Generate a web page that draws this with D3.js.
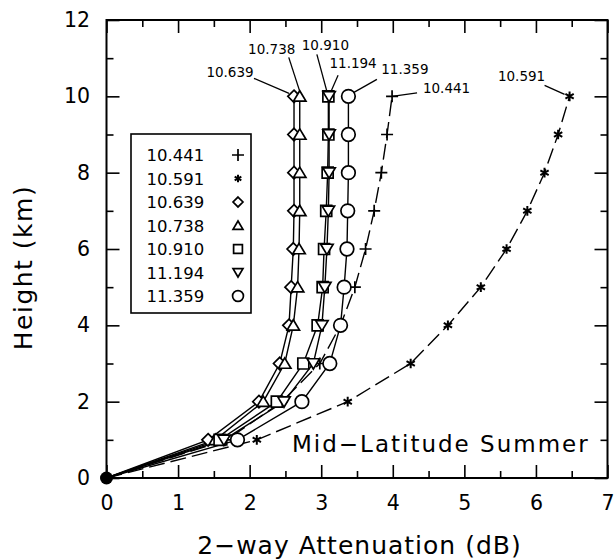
<!DOCTYPE html>
<html><head><meta charset="utf-8">
<script src="https://cdn.jsdelivr.net/npm/d3@7"></script>
<style>body{margin:0;background:#fff}</style>
</head><body>
<svg id="c" width="615" height="559"></svg>
<script>
// ---- data ----
const heights = [0,1,2,3,4,5,6,7,8,9,10];
const att_10441 = [0,1.68,2.45,2.98,3.27,3.47,3.62,3.74,3.84,3.92,3.99];
const att_10591 = [0,2.10,3.37,4.25,4.77,5.23,5.59,5.88,6.12,6.31,6.47];
const att_10639 = [0,1.42,2.13,2.42,2.55,2.58,2.61,2.62,2.62,2.62,2.62];
const att_10738 = [0,1.52,2.19,2.49,2.61,2.67,2.69,2.70,2.70,2.70,2.70];
const att_10910 = [0,1.58,2.38,2.75,2.95,3.02,3.04,3.07,3.09,3.10,3.10];
const att_11194 = [0,1.64,2.48,2.89,3.01,3.05,3.08,3.10,3.11,3.11,3.11];
const att_11359 = [0,1.83,2.73,3.12,3.27,3.32,3.36,3.37,3.38,3.38,3.38];
const seriesNames = ["10.441","10.591","10.639","10.738","10.910","11.194","11.359"];
const seriesValues = [att_10441,att_10591,att_10639,att_10738,att_10910,att_11194,att_11359];
const xTickValues = [0,1,2,3,4,5,6,7];
const yTickValues = [0,2,4,6,8,10,12];
const xLabel = "2\u2212way Attenuation (dB)";
const yLabel = "Height (km)";
const noteText = "Mid\u2212Latitude Summer";

// ---- styles / layout ----
const markers = ["plus","star","diamond","triangle","square","tridown","circle"];
const dashed = [true,true,false,false,false,false,false];
// label layout: offsets (px) from top marker: label centre, leader start, leader end
const labelLayout = [
  {c:[54.5,-8.5], s:[25,-3.5], e:[0,0]},
  {c:[-48,-20.5], s:[-25,-11], e:[-5,-2]},
  {c:[-64,-24], s:[-40,-18], e:[-5,-3]},
  {c:[-28,-47.5], s:[-11,-39], e:[0,-5]},
  {c:[-3,-51], s:[-11.5,-42], e:[-1.5,-5]},
  {c:[24,-33], s:[9,-21], e:[2,-5]},
  {c:[56.5,-27], s:[28.5,-17], e:[5.5,-4]}
];
const FONT = "'DejaVu Sans', sans-serif";

const svg = d3.select("#c");
const x = d3.scaleLinear().domain([0,7]).range([106.5,607.5]);
const y = d3.scaleLinear().domain([0,12]).range([478,20]);

function markerPath(type, k){
  const p = d3.path();
  if(type==="circle"){ const r=6.8*k; p.moveTo(r,0); p.arc(0,0,r,0,2*Math.PI); }
  else if(type==="diamond"){ const a=6.2*k; p.moveTo(0,-a);p.lineTo(a,0);p.lineTo(0,a);p.lineTo(-a,0);p.closePath(); }
  else if(type==="square"){ const a=5.5*k; p.rect(-a,-a,2*a,2*a); }
  else if(type==="triangle"){ const w=6.2*k,h=5.6*k; p.moveTo(0,-h);p.lineTo(w,h*0.85);p.lineTo(-w,h*0.85);p.closePath(); }
  else if(type==="tridown"){ const w=6.2*k,h=5.6*k; p.moveTo(0,h);p.lineTo(w,-h*0.85);p.lineTo(-w,-h*0.85);p.closePath(); }
  else if(type==="plus"){ const a=6*k; p.moveTo(-a,0);p.lineTo(a,0);p.moveTo(0,-a);p.lineTo(0,a); }
  else if(type==="star"){ const a=4.8*k; p.moveTo(0,-a);p.lineTo(0,a);
    const cx=a*Math.cos(Math.PI/6), cy=a*Math.sin(Math.PI/6);
    p.moveTo(-cx,-cy);p.lineTo(cx,cy);p.moveTo(-cx,cy);p.lineTo(cx,-cy); }
  return p.toString();
}
function drawMarker(g, type, px, py, k){
  const filled = !(type==="plus"||type==="star");
  g.append("path").attr("d", markerPath(type,k))
    .attr("transform",`translate(${px},${py})`)
    .attr("fill", filled ? "#fff" : "none")
    .attr("stroke","#000").attr("stroke-width", type==="star"?2:1.7);
}

// ---- axes ----
function styleAxis(g){
  g.select(".domain").remove();
  g.selectAll(".tick line").attr("stroke","#000").attr("stroke-width",1.6);
  g.selectAll("text").attr("font-family",FONT).attr("font-size",20.5).attr("fill","#000");
}
const xMinor = d3.range(0.5,7,1);
const yMinor = d3.range(1,12,2);
svg.append("g").attr("transform",`translate(0,${y(0)})`)
  .call(d3.axisBottom(x).tickValues(xTickValues).tickFormat(d3.format("d")).tickSizeInner(-13).tickSizeOuter(0).tickPadding(17)).call(styleAxis);
svg.append("g").attr("transform",`translate(0,${y(0)})`)
  .call(d3.axisBottom(x).tickValues(xMinor).tickFormat("").tickSizeInner(-7).tickSizeOuter(0)).call(styleAxis);
svg.append("g").attr("transform",`translate(0,${y(12)})`)
  .call(d3.axisTop(x).tickValues(xTickValues).tickFormat("").tickSizeInner(-13).tickSizeOuter(0)).call(styleAxis);
svg.append("g").attr("transform",`translate(0,${y(12)})`)
  .call(d3.axisTop(x).tickValues(xMinor).tickFormat("").tickSizeInner(-7).tickSizeOuter(0)).call(styleAxis);
svg.append("g").attr("transform",`translate(${x(0)},0)`)
  .call(d3.axisLeft(y).tickValues(yTickValues).tickFormat(d3.format("d")).tickSizeInner(-13).tickSizeOuter(0).tickPadding(16.5)).call(styleAxis);
svg.append("g").attr("transform",`translate(${x(0)},0)`)
  .call(d3.axisLeft(y).tickValues(yMinor).tickFormat("").tickSizeInner(-7).tickSizeOuter(0)).call(styleAxis);
svg.append("g").attr("transform",`translate(${x(7)},0)`)
  .call(d3.axisRight(y).tickValues(yTickValues).tickFormat("").tickSizeInner(-13).tickSizeOuter(0)).call(styleAxis);
svg.append("g").attr("transform",`translate(${x(7)},0)`)
  .call(d3.axisRight(y).tickValues(yMinor).tickFormat("").tickSizeInner(-7).tickSizeOuter(0)).call(styleAxis);

svg.append("rect").attr("x",x(0)).attr("y",y(12)).attr("width",x(7)-x(0)).attr("height",y(0)-y(12))
  .attr("fill","none").attr("stroke","#000").attr("stroke-width",2);

// axis titles
svg.append("text").attr("x",359.5).attr("y",554).attr("text-anchor","middle")
  .attr("font-family",FONT).attr("font-size",25).attr("letter-spacing",1).text(xLabel);
svg.append("text").attr("transform","translate(31.5,267.5) rotate(-90)").attr("text-anchor","middle")
  .attr("font-family",FONT).attr("font-size",25).attr("letter-spacing",1.5).text(yLabel);

// ---- lines ----
const line = d3.line().x(d=>x(d[0])).y(d=>y(d[1]));
const gl = svg.append("g");
seriesValues.forEach((vals,i)=>{
  gl.append("path").datum(vals.map((v,j)=>[v,heights[j]]))
    .attr("d",line).attr("fill","none").attr("stroke","#000").attr("stroke-width",1.4)
    .attr("stroke-dasharray", dashed[i] ? "16,6" : null);
});
// ---- markers ----
const gm = svg.append("g");
seriesValues.forEach((vals,i)=>{
  vals.forEach((v,j)=>{ if(heights[j]>0) drawMarker(gm, markers[i], x(v), y(heights[j]), 1); });
});
// origin dot
svg.append("circle").attr("cx",x(0)).attr("cy",y(0)).attr("r",6.5).attr("fill","#000");

// ---- labels at top ----
const ga = svg.append("g");
seriesValues.forEach((vals,i)=>{
  const top = vals.length-1;
  const mx = x(vals[top]), my = y(heights[top]);
  const L = labelLayout[i];
  ga.append("line").attr("x1",mx+L.s[0]).attr("y1",my+L.s[1]).attr("x2",mx+L.e[0]).attr("y2",my+L.e[1])
    .attr("stroke","#000").attr("stroke-width",1.3);
  ga.append("text").attr("x",mx+L.c[0]).attr("y",my+L.c[1]+5).attr("text-anchor","middle")
    .attr("font-family",FONT).attr("font-size",13.5).text(seriesNames[i]);
});

// ---- legend ----
const lg = svg.append("g");
lg.append("rect").attr("x",131).attr("y",134).attr("width",120).attr("height",179)
  .attr("fill","#fff").attr("stroke","#000").attr("stroke-width",1.6);
seriesNames.forEach((n,i)=>{
  const cy = 155 + i*23.5;
  lg.append("text").attr("x",146.5).attr("y",cy+6).attr("font-family",FONT).attr("font-size",16.5).text(n);
  drawMarker(lg, markers[i], 238, cy, (markers[i]==="plus")?1:0.8);
});

// note
svg.append("text").attr("x",292).attr("y",452).attr("font-family",FONT).attr("font-size",23)
  .attr("letter-spacing",2).text(noteText);
</script>
</body></html>
